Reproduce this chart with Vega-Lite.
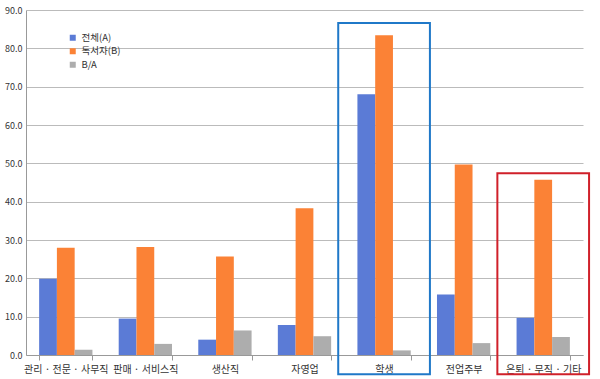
{
  "$schema": "https://vega.github.io/schema/vega-lite/v6.json",
  "width": 600,
  "height": 379,
  "autosize": {"type": "fit", "contains": "padding"},
  "padding": {"top": 6, "left": 4, "right": 9, "bottom": 1},
  "background": "white",
  "config": {
    "font": "Noto Sans CJK KR",
    "view": {"stroke": null}
  },
  "datasets": {
    "bars": [
      {"cat": "관리 · 전문 · 사무직", "series": "전체(A)", "value": 19.9},
      {"cat": "관리 · 전문 · 사무직", "series": "독서자(B)", "value": 28.0},
      {"cat": "관리 · 전문 · 사무직", "series": "B/A", "value": 1.4},
      {"cat": "판매 · 서비스직", "series": "전체(A)", "value": 9.5},
      {"cat": "판매 · 서비스직", "series": "독서자(B)", "value": 28.2},
      {"cat": "판매 · 서비스직", "series": "B/A", "value": 2.9},
      {"cat": "생산직", "series": "전체(A)", "value": 4.0},
      {"cat": "생산직", "series": "독서자(B)", "value": 25.7},
      {"cat": "생산직", "series": "B/A", "value": 6.4},
      {"cat": "자영업", "series": "전체(A)", "value": 7.8},
      {"cat": "자영업", "series": "독서자(B)", "value": 38.3},
      {"cat": "자영업", "series": "B/A", "value": 4.9},
      {"cat": "학생", "series": "전체(A)", "value": 68.0},
      {"cat": "학생", "series": "독서자(B)", "value": 83.4},
      {"cat": "학생", "series": "B/A", "value": 1.2},
      {"cat": "전업주부", "series": "전체(A)", "value": 15.8},
      {"cat": "전업주부", "series": "독서자(B)", "value": 49.7},
      {"cat": "전업주부", "series": "B/A", "value": 3.1},
      {"cat": "은퇴 · 무직 · 기타", "series": "전체(A)", "value": 9.7},
      {"cat": "은퇴 · 무직 · 기타", "series": "독서자(B)", "value": 45.7},
      {"cat": "은퇴 · 무직 · 기타", "series": "B/A", "value": 4.7}
    ],
    "boxes": [
      {"cat": "학생", "top": 86.6, "bottom": -5.0, "box": "blue"},
      {"cat": "은퇴 · 무직 · 기타", "top": 47.4, "bottom": -5.0, "box": "red"}
    ]
  },
  "layer": [
    {
      "data": {"name": "bars"},
      "mark": {"type": "bar"},
      "encoding": {
        "x": {
          "field": "cat", "type": "nominal", "sort": null,
          "scale": {"paddingInner": 0.33, "paddingOuter": 0.165},
          "axis": {
            "title": null, "labelAngle": 0, "labelFontSize": 10, "labelColor": "#333333",
            "domainColor": "#999999", "tickColor": "#999999", "tickSize": 5,
            "tickBand": "extent", "labelPadding": 4, "grid": false, "labelOverlap": false
          }
        },
        "xOffset": {
          "field": "series", "type": "nominal", "sort": ["전체(A)", "독서자(B)", "B/A"],
          "scale": {"paddingInner": 0, "paddingOuter": 0}
        },
        "y": {
          "field": "value", "type": "quantitative",
          "scale": {"domain": [0, 90], "nice": false},
          "axis": {
            "title": null, "format": ".1f", "values": [0,10,20,30,40,50,60,70,80,90],
            "labelFontSize": 9, "labelColor": "#333333", "gridColor": "#bbbbbb",
            "domainColor": "#999999", "ticks": false, "labelPadding": 4, "labelOverlap": false
          }
        },
        "color": {
          "field": "series", "type": "nominal", "sort": ["전체(A)", "독서자(B)", "B/A"],
          "scale": {"domain": ["전체(A)", "독서자(B)", "B/A"], "range": ["#5B7BD6", "#FB8236", "#ADADAD"]},
          "legend": {
            "title": null, "orient": "none", "legendX": 42, "legendY": 23,
            "symbolType": "square", "symbolSize": 36, "labelFontSize": 9.5, "rowPadding": 2.5,
            "labelColor": "#333333", "symbolStrokeWidth": 0, "labelOffset": 4
          }
        }
      }
    },
    {
      "data": {"name": "boxes"},
      "mark": {"type": "bar", "filled": false, "strokeWidth": 2, "width": {"band": 1.72}},
      "encoding": {
        "x": {
          "field": "cat", "type": "nominal", "sort": null,
          "axis": {
            "title": null, "labelAngle": 0, "labelFontSize": 10, "labelColor": "#333333",
            "domainColor": "#999999", "tickColor": "#999999", "tickSize": 5,
            "tickBand": "extent", "labelPadding": 4, "grid": false, "labelOverlap": false
          }
        },
        "y": {
          "field": "top", "type": "quantitative",
          "axis": {
            "title": null, "format": ".1f", "values": [0,10,20,30,40,50,60,70,80,90],
            "labelFontSize": 9, "labelColor": "#333333", "gridColor": "#bbbbbb",
            "domainColor": "#999999", "ticks": false, "labelPadding": 4, "labelOverlap": false
          }
        },
        "y2": {"field": "bottom"},
        "stroke": {
          "field": "box", "type": "nominal",
          "scale": {"domain": ["blue", "red"], "range": ["#1F78C8", "#D0202A"]},
          "legend": null
        }
      }
    }
  ]
}
